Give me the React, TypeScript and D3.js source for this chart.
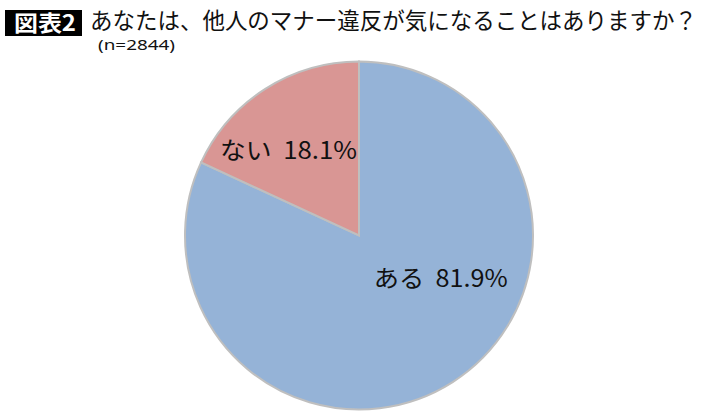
import React from "react";
import * as d3 from "d3";

const categories = ["ある", "ない"];
const values = [81.9, 18.1];
const colors = ["#95B3D7", "#D99694"];
const titleBadge = "図表2";
const titleText = "あなたは、他人のマナー違反が気になることはありますか？";
const sampleText = "(n=2844)";

const W = 710;
const H = 419;
const cx = 359;
const cy = 235.5;
const R = 174;

// label offsets as fraction of radius (relative to center)
const labelPos = [
  { dx: 0.47, dy: 0.235, len: 134 },
  { dx: -0.405, dy: -0.5, len: 137 },
];

export default function App() {
  const data = categories.map((c, i) => ({ c, v: values[i], color: colors[i] }));
  const pie = d3.pie<any>().sort(null).value((d: any) => d.v);
  const arcs = pie(data);
  const arcGen = d3.arc<any>().innerRadius(0).outerRadius(R);
  const font = "'Noto Sans CJK JP', 'Noto Sans', sans-serif";
  return (
    <svg
      width={W}
      height={H}
      style={{ position: "absolute", left: 0, top: 0, background: "#fff" }}
    >
      <rect x={5} y={10} width={77} height={26} fill="#000" />
      <text
        x={14}
        y={31}
        fill="#fff"
        fontFamily={font}
        fontWeight="bold"
        fontSize={22}
        textLength={62}
        lengthAdjust="spacingAndGlyphs"
      >
        {titleBadge}
      </text>
      <text
        x={90}
        y={28.5}
        fill="#111"
        fontFamily={font}
        fontSize={22.5}
        textLength={607}
        lengthAdjust="spacingAndGlyphs"
      >
        {titleText}
      </text>
      <text
        x={98}
        y={49.5}
        fill="#111"
        fontFamily="'Noto Sans', sans-serif"
        fontSize={13.5}
        textLength={77}
        lengthAdjust="spacingAndGlyphs"
      >
        {sampleText}
      </text>
      <g transform={`translate(${cx},${cy})`}>
        {arcs.map((a, i) => (
          <path
            key={i}
            d={arcGen(a) as string}
            fill={a.data.color}
            stroke="#BFBFBF"
            strokeWidth={2}
          />
        ))}
        {arcs.map((a, i) => (
          <text
            key={"l" + i}
            x={labelPos[i].dx * R}
            y={labelPos[i].dy * R}
            textAnchor="middle"
            dominantBaseline="central"
            fontFamily={font}
            fontSize={24}
            fill="#111"
            textLength={labelPos[i].len}
            lengthAdjust="spacingAndGlyphs"
          >
            {`${a.data.c}\u00A0\u00A0${d3.format(".1f")(a.data.v)}%`}
          </text>
        ))}
      </g>
    </svg>
  );
}
